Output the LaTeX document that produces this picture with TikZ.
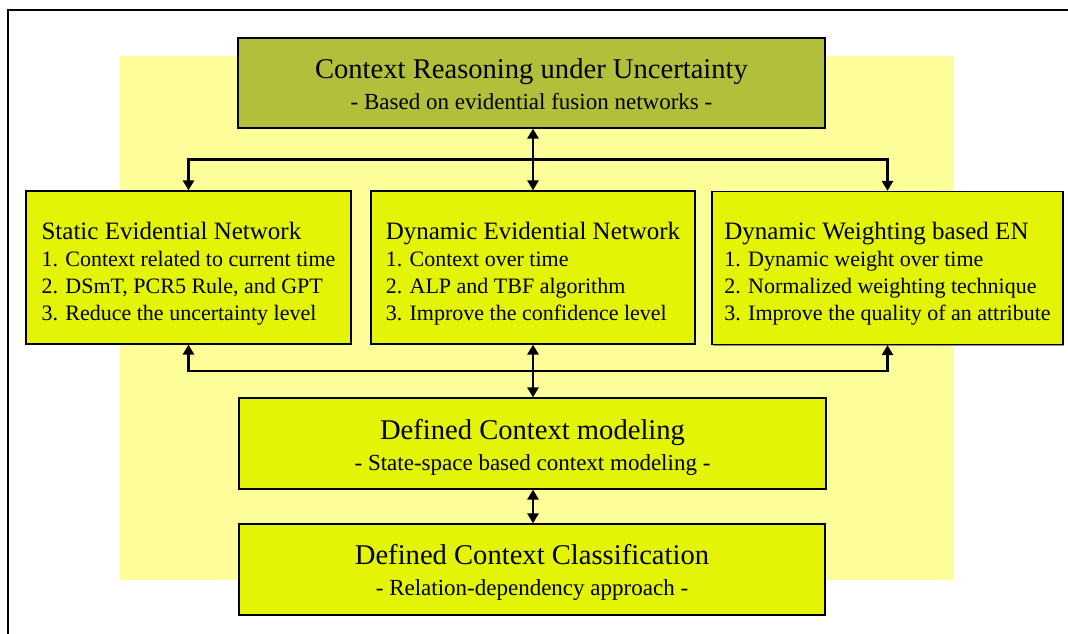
\documentclass[tikz,border=0pt]{standalone}
\usepackage{fontspec}
\setmainfont{Liberation Serif}
\usepackage{tikz}
\usetikzlibrary{positioning,arrows.meta,calc,shadows}

\definecolor{bgyellow}{HTML}{FDFD99}
\definecolor{boxlime}{HTML}{E3F406}
\definecolor{boxolive}{HTML}{B2BF3A}

\newcommand{\entitle}[1]{{\fontsize{25}{28}\selectfont\rule{0pt}{29pt}#1}}
\newcommand{\ctxsub}[1]{{\fontsize{23}{31}\selectfont #1}}

\begin{document}
\begin{tikzpicture}[x=1pt, y=-1pt, >={Triangle[width=11pt,length=10pt]},
    every node/.style={font=\fontsize{22}{27}\selectfont},
    ctxbox/.style={draw, line width=1.2pt, fill=boxlime, align=center,
        drop shadow={shadow xshift=1.2pt, shadow yshift=-1.2pt, fill=black!70, opacity=0.6}},
    bigbox/.style={ctxbox, minimum width=587pt, minimum height=91pt,
        font=\fontsize{28.6}{31}\selectfont},
    enbox/.style={ctxbox, align=left, minimum height=153pt},
    link/.style={line width=2.8pt}]

  \useasboundingbox (0,0) rectangle (1068,634);

  %% ─── frame and background ───────────────────────────────────────────────
  \draw[line width=1.5pt] (8,640) -- (8,10) -- (1070,10);
  \fill[bgyellow] (120,56) rectangle (954,580);

  %% ─── top: reasoning ────────────────────────────────────────────────────
  \node[bigbox, fill=boxolive, minimum height=90pt] (reason)
      at (531.5,83) {\rule{0pt}{23pt}Context Reasoning under Uncertainty\\
      \ctxsub{- Based on evidential fusion networks -}};

  %% ─── evidential network row ───────────────────────────────────────────
  \node[enbox, minimum width=325pt] (sen) at (188.5,267.5)
      {\entitle{Static Evidential Network}\\
       1. Context related to current time\hspace{5pt}\\
       2. DSmT, PCR5 Rule, and GPT\\
       3. Reduce the uncertainty level};

  \node[enbox, minimum width=324pt] (den) at (533,267.5)
      {\entitle{Dynamic Evidential Network}\hspace{3pt}\\
       1. Context over time\\
       2. ALP and TBF algorithm\\
       3. Improve the confidence level};

  \node[enbox, minimum width=351pt] (dwen) at (887.5,268)
      {\entitle{Dynamic Weighting based EN}\\
       1. Dynamic weight over time\\
       2. Normalized weighting technique\\
       3. Improve the quality of an attribute};

  %% ─── context modeling / classification ─────────────────────────────────
  \node[bigbox] (model) at (532.5,443.5)
      {\rule{0pt}{27pt}Defined Context modeling\\
      \ctxsub{- State-space based context modeling -}};

  \node[bigbox, minimum width=586pt] (classif) at (532,569.5)
      {\rule{0pt}{26pt}Defined Context Classification\\
      \ctxsub{- Relation-dependency approach -}};

  %% ─── connectors ──────────────────────────────────────────────────────
  \coordinate (upj) at ($(reason.south -| den.north)!0.5!(den.north)$);
  \coordinate (lowj) at ($(den.south)!0.5!(model.north)$);

  \draw[<->, link] (reason.south -| den.north) -- (den.north);
  \draw[->, link] (upj) -| (sen.north);
  \draw[->, link] (upj) -| (dwen.north);

  \draw[<->, link] (den.south) -- (model.north -| den.south);
  \draw[->, link] (lowj) -| (sen.south);
  \draw[->, link] (lowj) -| (dwen.south);

  \draw[<->, link] (model.south -| den.south) -- (classif.north -| den.south);

\end{tikzpicture}
\end{document}
